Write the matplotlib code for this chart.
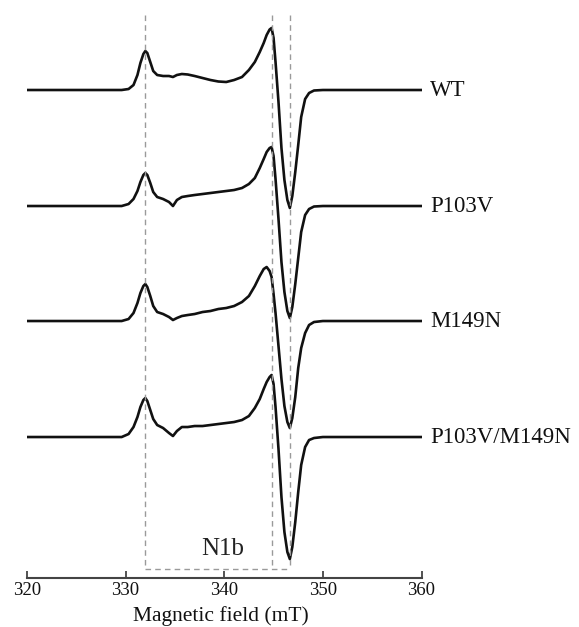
import numpy as np
import matplotlib
matplotlib.use("Agg")
import matplotlib.pyplot as plt

# EPR spectra, intensities in arbitrary units relative to each baseline
field = [320, 326, 329.6, 330.3, 330.8, 331.2, 331.5, 331.8, 332.0, 332.2,
         332.5, 332.8, 333.2, 333.8, 334.4, 334.8, 335.2, 335.7, 336.3, 337.0,
         337.8, 338.6, 339.4, 340.2, 341.0, 341.8, 342.5, 343.1, 343.6, 344.0,
         344.3, 344.6, 344.8, 345.0, 345.2, 345.5, 345.8, 346.1, 346.4, 346.65,
         346.9, 347.2, 347.5, 347.8, 348.2, 348.6, 349.1, 350, 355, 360]

wt = [0, 0, 0, 1, 5, 15, 27, 36, 39, 37,
      28, 19, 15, 14, 14, 13, 15, 16, 15.5, 14,
      12, 10, 8.5, 8, 10, 13, 20, 28, 38, 47,
      55, 60.5, 62, 52, 28, -12, -58, -90, -110, -118,
      -106, -82, -55, -27, -9, -3, -0.5, 0, 0, 0]

p103v = [0, 0, 0, 2, 7, 15, 24, 31, 33, 31,
         23, 14, 9, 7, 4, 0, 6, 9, 10, 11,
         12, 13, 14, 15, 16, 18, 22, 28, 38, 47,
         54, 58, 59, 50, 27, -13, -56, -86, -105, -112,
         -101, -78, -52, -26, -9, -3, -0.5, 0, 0, 0]

m149n = [0, 0, 0, 2, 8, 18, 28, 35, 37, 34,
         25, 15, 9, 7, 4, 1, 3, 5, 6, 7,
         9, 10, 12, 13, 15, 19, 25, 35, 45, 52,
         54, 50, 44, 27, 8, -25, -58, -85, -101, -107,
         -97, -76, -47, -27, -12, -4, -1, 0, 0, 0]

double = [0, 0, 0, 3, 10, 20, 30, 37, 39, 36,
          27, 18, 12, 9, 4, 1, 6, 10, 10, 11,
          11, 12, 13, 14, 15, 17, 21, 29, 38, 48,
          55, 60, 62, 53, 30, -12, -60, -95, -115, -122,
          -110, -85, -55, -28, -10, -3, -1, 0, 0, 0]

labels = ["WT", "P103V", "M149N", "P103V/M149N"]
offsets = [0, -116, -231, -347]
guides = [332.0, 344.8, 346.65]

plt.rcParams["font.family"] = ["Liberation Serif", "DejaVu Serif"]

fig = plt.figure(figsize=(5.79, 6.27), dpi=100)
ax = fig.add_axes([0.0466, 0.0781, 0.6814, 0.9219])

for y, lab, off in zip([wt, p103v, m149n, double], labels, offsets):
    ax.plot(field, np.array(y) + off, color="#111111", lw=1.9,
            solid_joinstyle="round")
    ax.text(360.9, off, lab, fontsize=16.5, va="center", ha="left",
            color="#111111", clip_on=False)

# dashed guide lines and the N1b bracket
gcol = "#9a9a9a"
for g in guides:
    ax.plot([g, g], [75, -479], color=gcol, lw=1.0, ls=(0, (4, 3)))
ax.plot([guides[0], guides[2]], [-479, -479], color=gcol, lw=1.0, ls=(0, (4, 3)))
ax.text(339.8, -459, "N1b", fontsize=18, ha="center", va="center", color="#222222")

ax.set_xlim(320, 360)
ax.set_ylim(-488, 90)
ax.set_xticks([320, 330, 340, 350, 360])
for s in ["top", "left", "right"]:
    ax.spines[s].set_visible(False)
ax.spines["bottom"].set_color("#444444")
ax.spines["bottom"].set_linewidth(1.5)
ax.set_yticks([])
ax.tick_params(axis="x", direction="in", length=5, width=1.3, color="#444444",
               labelsize=13.5, pad=3, labelcolor="#111111")

fig.text(0.381, 0.002, "Magnetic field (mT)", fontsize=15.5, ha="center", va="bottom",
         color="#111111")

fig.savefig("out.png", dpi=100)
